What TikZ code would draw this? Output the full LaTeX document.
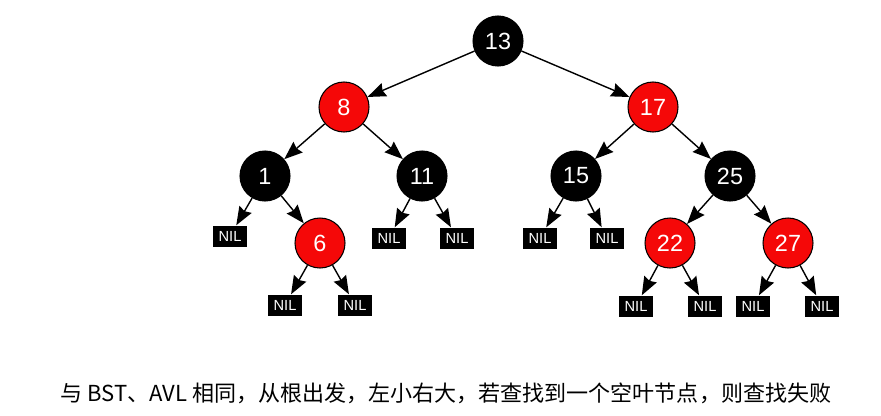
\documentclass[tikz,border=0pt]{standalone}
\usepackage{fontspec}
\setmainfont{Liberation Sans}
\newfontfamily\cjkfont{Noto Sans CJK SC}
\usetikzlibrary{arrows.meta}
\definecolor{rbred}{RGB}{245,8,8}

\begin{document}
\begin{tikzpicture}[
    x=0.03cm, y=-0.03cm,
    blacknode/.style={circle, draw=black, line width=0.9pt, fill=black, text=white, minimum size=1.5cm, inner sep=0pt, font=\fontsize{20}{20}\selectfont},
    rednode/.style={blacknode, fill=rbred},
    nil/.style={rectangle, fill=black, text=white, minimum width=1.02cm, minimum height=0.63cm, inner sep=0pt, font=\fontsize{12.5}{12.5}\selectfont},
    arrow/.style={-{Stealth[length=5.5mm, width=4.2mm, inset=0.6mm]}, line width=1.2pt}
]
\useasboundingbox (0,0) rectangle (881,415);

% tree nodes
\node[blacknode] (n13) at (498,41) {13};
\node[rednode] (n8) at (344,107) {8};
\node[rednode] (n17) at (653,107) {17};
\node[blacknode] (n1) at (265,176) {1};
\node[blacknode] (n11) at (422,176) {11};
\node[blacknode] (n15) at (576,176) {15};
\node[blacknode] (n25) at (730,176) {25};
\node[rednode] (n6) at (320,243) {6};
\node[rednode] (n22) at (670,243) {22};
\node[rednode] (n27) at (788,243) {27};

% leaves
\node[nil] (nil1) at (230,236) {NIL};
\node[nil] (nil11l) at (389,238) {NIL};
\node[nil] (nil11r) at (457,238) {NIL};
\node[nil] (nil15l) at (540,238) {NIL};
\node[nil] (nil15r) at (607,238) {NIL};
\node[nil] (nil6l) at (285,305) {NIL};
\node[nil] (nil6r) at (355,305) {NIL};
\node[nil] (nil22l) at (636,306) {NIL};
\node[nil] (nil22r) at (705,306) {NIL};
\node[nil] (nil27l) at (753,306) {NIL};
\node[nil] (nil27r) at (822,306) {NIL};

\draw[arrow] (n13) -- (n8);
\draw[arrow] (n13) -- (n17);
\draw[arrow] (n8) -- (n1);
\draw[arrow] (n8) -- (n11);
\draw[arrow] (n17) -- (n15);
\draw[arrow] (n17) -- (n25);
\draw[arrow] (n1) -- (nil1);
\draw[arrow] (n1) -- (n6);
\draw[arrow] (n11) -- (nil11l);
\draw[arrow] (n11) -- (nil11r);
\draw[arrow] (n15) -- (nil15l);
\draw[arrow] (n15) -- (nil15r);
\draw[arrow] (n25) -- (n22);
\draw[arrow] (n25) -- (n27);
\draw[arrow] (n6) -- (nil6l);
\draw[arrow] (n6) -- (nil6r);
\draw[arrow] (n22) -- (nil22l);
\draw[arrow] (n22) -- (nil22r);
\draw[arrow] (n27) -- (nil27l);
\draw[arrow] (n27) -- (nil27r);

% caption
\node[font=\cjkfont\fontsize{18.8}{18.8}\selectfont] (caption) at (446,393) {与 BST、AVL 相同，从根出发，左小右大，若查找到一个空叶节点，则查找失败};

\end{tikzpicture}
\end{document}
